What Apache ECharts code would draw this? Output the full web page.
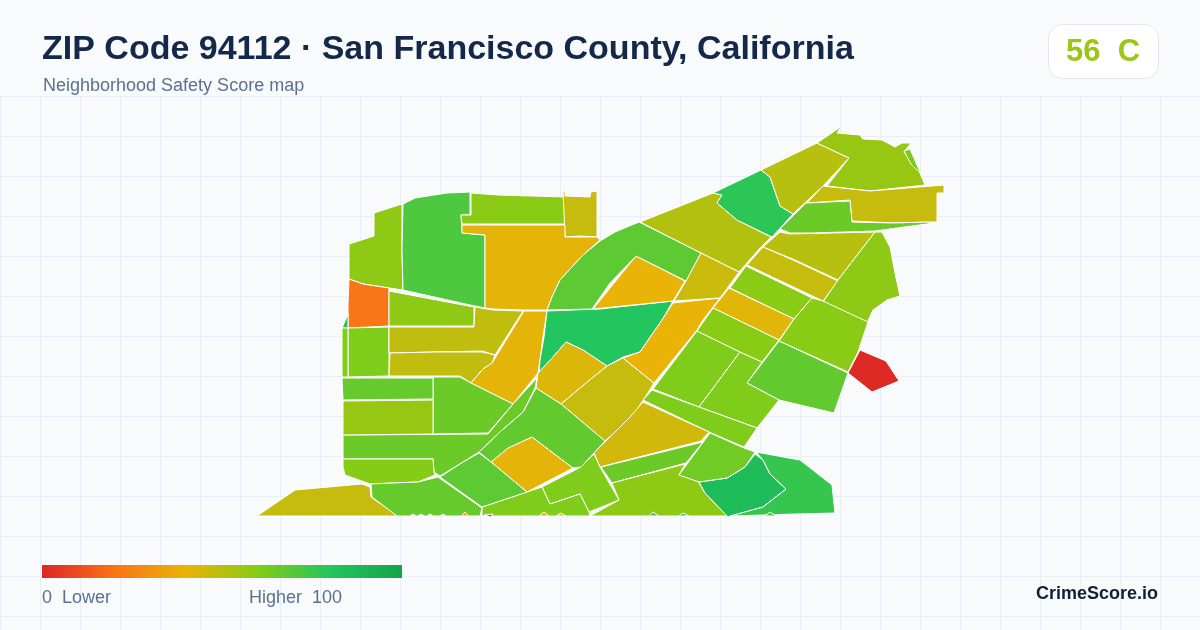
<!DOCTYPE html>
<html>
<head>
<meta charset="utf-8">
<title>ZIP Code 94112</title>
<script src="https://cdn.jsdelivr.net/npm/echarts@6/dist/echarts.min.js"></script>
<style>
html,body{margin:0;padding:0;background:#f8fafc;}
#grid{position:absolute;left:0;top:96px;width:1200px;height:534px;
background-image:linear-gradient(to right,#e8eef4 1px,transparent 1px),linear-gradient(to bottom,#e8eef4 1px,transparent 1px);
background-size:40px 40px;}
#chart{position:absolute;left:0;top:0;width:1200px;height:630px;}
</style>
</head>
<body>
<div id="grid"></div>
<div id="chart"></div>
<script>
// block group scores
var blockNames = ['b01','b02','b03','b04','b05','b06','b07','b08','b09','b10','b11','b12','b13','b14','b15','b16','b17','b18','b19','b20','b21','b22','b23','b24','b25','b26','b27','b28','b29','b30','b31','b32','b33','b34','b35','b36','b37','b38','b39','b40','b41','b42','b43','b44','b45','b46','b47','b48','b49','b50','b51','b52','b53','b54','b55','b56','b57','b58','b59','b60','b61','b62','b63','b64'];
var blockScores = [58,71,59,47,41,21,78,61,61,58,48,48,41,80,43,47,40,40,68,51,78,50,56,62,47,65,50,47,59,42,46,58,59,67,61,61,59,61,45,65,58,61,61,41,67,68,65,65,60,66,56,47,66,5,85,76,64,1,41,41,41,72,76,72];
var legendStops = ['#dc2626','#f97316','#eab308','#84cc16','#22c55e','#16a34a'];
var scoreText = '56  C';

// outlines, same order as blockNames
var blockOutlines = [
[[349,244],[374,236],[374,213],[402,204],[402,250],[403,290],[389,288],[363,284],[349,279]],
[[403,204],[415,198],[447,193],[470,192],[470,215],[461,215],[462,233],[485,235],[485,308],[470,305],[403,290],[402,250]],
[[471,193],[498,195],[565,197],[565,224],[513,224],[462,224],[461,215],[471,215]],
[[563,191],[565,191],[565,196],[590,197],[591,192],[597,191],[597,237],[580,236],[565,237]],
[[462,225],[565,225],[565,237],[597,237],[600,240],[583,255],[560,280],[552,297],[547,310],[523,310],[493,309],[485,308],[485,235],[462,233]],
[[349,279],[363,284],[389,288],[389,326],[348,328],[348,304]],
[[348,314],[348,328],[342,328]],
[[348,328],[389,327],[389,376],[348,377]],
[[342,328],[348,328],[348,377],[342,377]],
[[389,291],[474,307],[474,326],[389,326]],
[[389,327],[474,327],[475,307],[493,310],[523,311],[495,355],[482,351],[435,352],[389,353]],
[[390,353],[435,352],[482,352],[495,355],[492,363],[483,369],[471,383],[460,376],[389,376]],
[[524,311],[547,311],[543,337],[540,360],[538,373],[513,404],[471,383],[483,369],[492,363]],
[[547,311],[600,309],[673,301],[662,320],[648,340],[640,352],[623,357],[607,366],[583,350],[566,342],[553,357],[539,373],[540,360],[544,337]],
[[566,342],[583,350],[607,366],[580,388],[561,404],[536,388],[538,373],[553,357]],
[[607,366],[623,358],[654,383],[644,399],[632,417],[605,441],[561,404],[580,388]],
[[640,352],[662,320],[673,303],[720,298],[703,320],[697,330],[654,383],[623,358]],
[[636,256],[685,281],[673,301],[593,309]],
[[547,310],[552,297],[560,280],[583,255],[600,241],[615,232],[639,222],[701,253],[686,281],[636,256],[610,283],[592,309]],
[[640,222],[713,193],[722,195],[717,203],[737,220],[771,237],[760,248],[739,272],[701,253]],
[[713,193],[761,170],[770,177],[780,206],[793,214],[772,237],[737,220],[717,203],[722,195]],
[[761,170],[817,143],[849,158],[823,186],[793,214],[780,206],[770,177]],
[[817,143],[842,126],[837,133],[860,135],[863,139],[882,140],[895,147],[902,143],[911,143],[904,152],[920,173],[925,185],[870,191],[827,186],[849,158]],
[[904,151],[910,149],[921,174],[911,164]],
[[823,186],[870,191],[944,185],[944,193],[937,193],[937,222],[930,222],[893,223],[852,221],[850,200],[807,203]],
[[806,203],[850,201],[852,222],[893,223],[928,222],[934,223],[875,231],[813,233],[790,233],[780,229]],
[[780,232],[790,234],[875,232],[838,280],[795,260],[763,247]],
[[763,247],[793,260],[838,281],[823,301],[747,265]],
[[746,266],[812,298],[794,319],[730,288]],
[[729,288],[794,319],[779,340],[713,308]],
[[701,253],[739,272],[720,298],[674,301],[686,281]],
[[882,232],[890,247],[895,273],[900,296],[887,300],[873,310],[867,323],[823,302],[838,280],[875,232]],
[[812,298],[823,301],[868,322],[858,352],[848,372],[779,341],[794,319]],
[[779,341],[848,373],[834,413],[779,400],[747,383]],
[[697,331],[740,352],[699,407],[653,389]],
[[740,352],[762,362],[747,383],[779,400],[757,428],[699,407]],
[[713,308],[779,340],[762,362],[740,352],[697,331]],
[[652,390],[699,407],[757,428],[744,447],[709,432],[643,400]],
[[643,402],[709,432],[701,441],[600,467],[594,453],[630,417]],
[[601,467],[703,442],[686,463],[612,483]],
[[612,483],[685,464],[679,475],[698,481],[705,493],[727,516],[590,516],[619,500]],
[[594,454],[600,467],[619,500],[589,512],[580,494],[550,504],[542,487],[581,467]],
[[482,507],[527,492],[542,487],[550,504],[580,494],[589,512],[590,516],[482,516]],
[[532,437],[573,468],[527,492],[491,462],[508,448]],
[[536,388],[561,404],[605,441],[594,453],[581,467],[573,468],[532,437],[508,448],[491,462],[479,452],[502,430],[523,412]],
[[479,453],[491,462],[527,492],[482,507],[440,477],[463,462]],
[[343,435],[488,434],[513,404],[537,378],[535,388],[523,412],[502,430],[479,452],[463,462],[440,476],[434,472],[433,459],[343,459]],
[[433,377],[460,377],[471,383],[513,404],[488,433],[433,434]],
[[343,459],[433,459],[434,472],[435,475],[418,482],[392,483],[370,484],[345,475],[343,467]],
[[342,378],[433,378],[433,399],[343,400]],
[[343,401],[433,400],[433,434],[343,435]],
[[257,516],[295,490],[362,484],[370,487],[371,497],[398,516]],
[[371,484],[392,483],[418,482],[438,477],[482,508],[480,516],[446,516],[443,514],[440,516],[433,516],[430,514],[427,516],[424,516],[421,514],[418,516],[416,516],[413,514],[410,516],[397,516],[372,497]],
[[484,515],[493,514],[491,517]],
[[755,454],[763,460],[770,474],[786,489],[763,507],[728,517],[705,493],[699,482],[727,478],[745,467]],
[[756,452],[800,460],[832,485],[835,513],[797,514],[730,516],[763,507],[786,489],[770,474],[763,460]],
[[710,433],[744,448],[755,452],[745,467],[727,478],[699,482],[679,475]],
[[860,350],[886,361],[899,381],[872,392],[848,373]],
// little slivers poking out along the clipped bottom edge
[[461,516],[465,512],[469,516]],
[[539,516],[544,512],[549,516]],
[[556,516],[561,513],[566,516]],
[[649,516],[653,512],[659,516]],
[[679,516],[683,513],[689,516]],
[[765,516],[770,512],[776,516]]
];

var features = [];
var mapData = [];
for (var i = 0; i < blockNames.length; i++) {
    var ring = blockOutlines[i].concat([blockOutlines[i][0]]);
    features.push({
        type: 'Feature',
        properties: { name: blockNames[i] },
        geometry: { type: 'Polygon', coordinates: [ring] }
    });
    mapData.push({ name: blockNames[i], value: blockScores[i] });
}
echarts.registerMap('zip94112', { type: 'FeatureCollection', features: features });

// square-cornered legend bar, same stops as the visualMap
var barStops = [];
for (var j = 0; j < legendStops.length; j++) {
    barStops.push({ offset: j / (legendStops.length - 1), color: legendStops[j] });
}

var myChart = echarts.init(document.getElementById('chart'));
var option = {
    animation: false,
    title: {
        text: 'ZIP Code 94112 · San Francisco County, California',
        left: 42, top: 33, padding: 0,
        textStyle: { fontFamily: 'Liberation Sans', fontSize: 34, fontWeight: 'bold', color: '#14294a' }
    },
    visualMap: {
        type: 'continuous',
        show: false,
        seriesIndex: 0,
        min: 0,
        max: 100,
        inRange: { color: legendStops }
    },
    graphic: [
        { type: 'text', x: 43, y: 86, style: { text: 'Neighborhood Safety Score map', fill: '#5a7190', font: '18px "Liberation Sans"', textVerticalAlign: 'middle' } },
        { type: 'rect', shape: { x: 1048.5, y: 24.5, width: 110, height: 54, r: 14 }, style: { fill: '#fff', stroke: '#e2e8f0', lineWidth: 1 } },
        { type: 'text', x: 1103, y: 52, style: { text: scoreText, fill: '#98c814', font: 'bold 31px "Liberation Sans"', textAlign: 'center', textVerticalAlign: 'middle' } },
        { type: 'rect', shape: { x: 42, y: 565, width: 360, height: 13 }, style: { fill: new echarts.graphic.LinearGradient(0, 0, 1, 0, barStops) } },
        { type: 'text', x: 42, y: 598, style: { text: '0  Lower', fill: '#5a7190', font: '18px "Liberation Sans"', textVerticalAlign: 'middle' } },
        { type: 'text', x: 249, y: 598, style: { text: 'Higher  100', fill: '#5a7190', font: '18px "Liberation Sans"', textVerticalAlign: 'middle' } },
        { type: 'text', x: 1158, y: 594, style: { text: 'CrimeScore.io', fill: '#0f1f38', font: 'bold 18px "Liberation Sans"', textAlign: 'right', textVerticalAlign: 'middle' } }
    ],
    series: [{
        type: 'map',
        map: 'zip94112',
        projection: {
            project: function (p) { return [p[0], p[1]]; },
            unproject: function (p) { return [p[0], p[1]]; }
        },
        boundingCoords: [[0, 0], [1200, 630]],
        left: 0, top: 0, width: 1200, height: 630,
        roam: false,
        silent: true,
        label: { show: false },
        itemStyle: { borderColor: '#ffffff', borderWidth: 1 },
        data: mapData
    }]
};
myChart.setOption(option);
</script>
</body>
</html>
